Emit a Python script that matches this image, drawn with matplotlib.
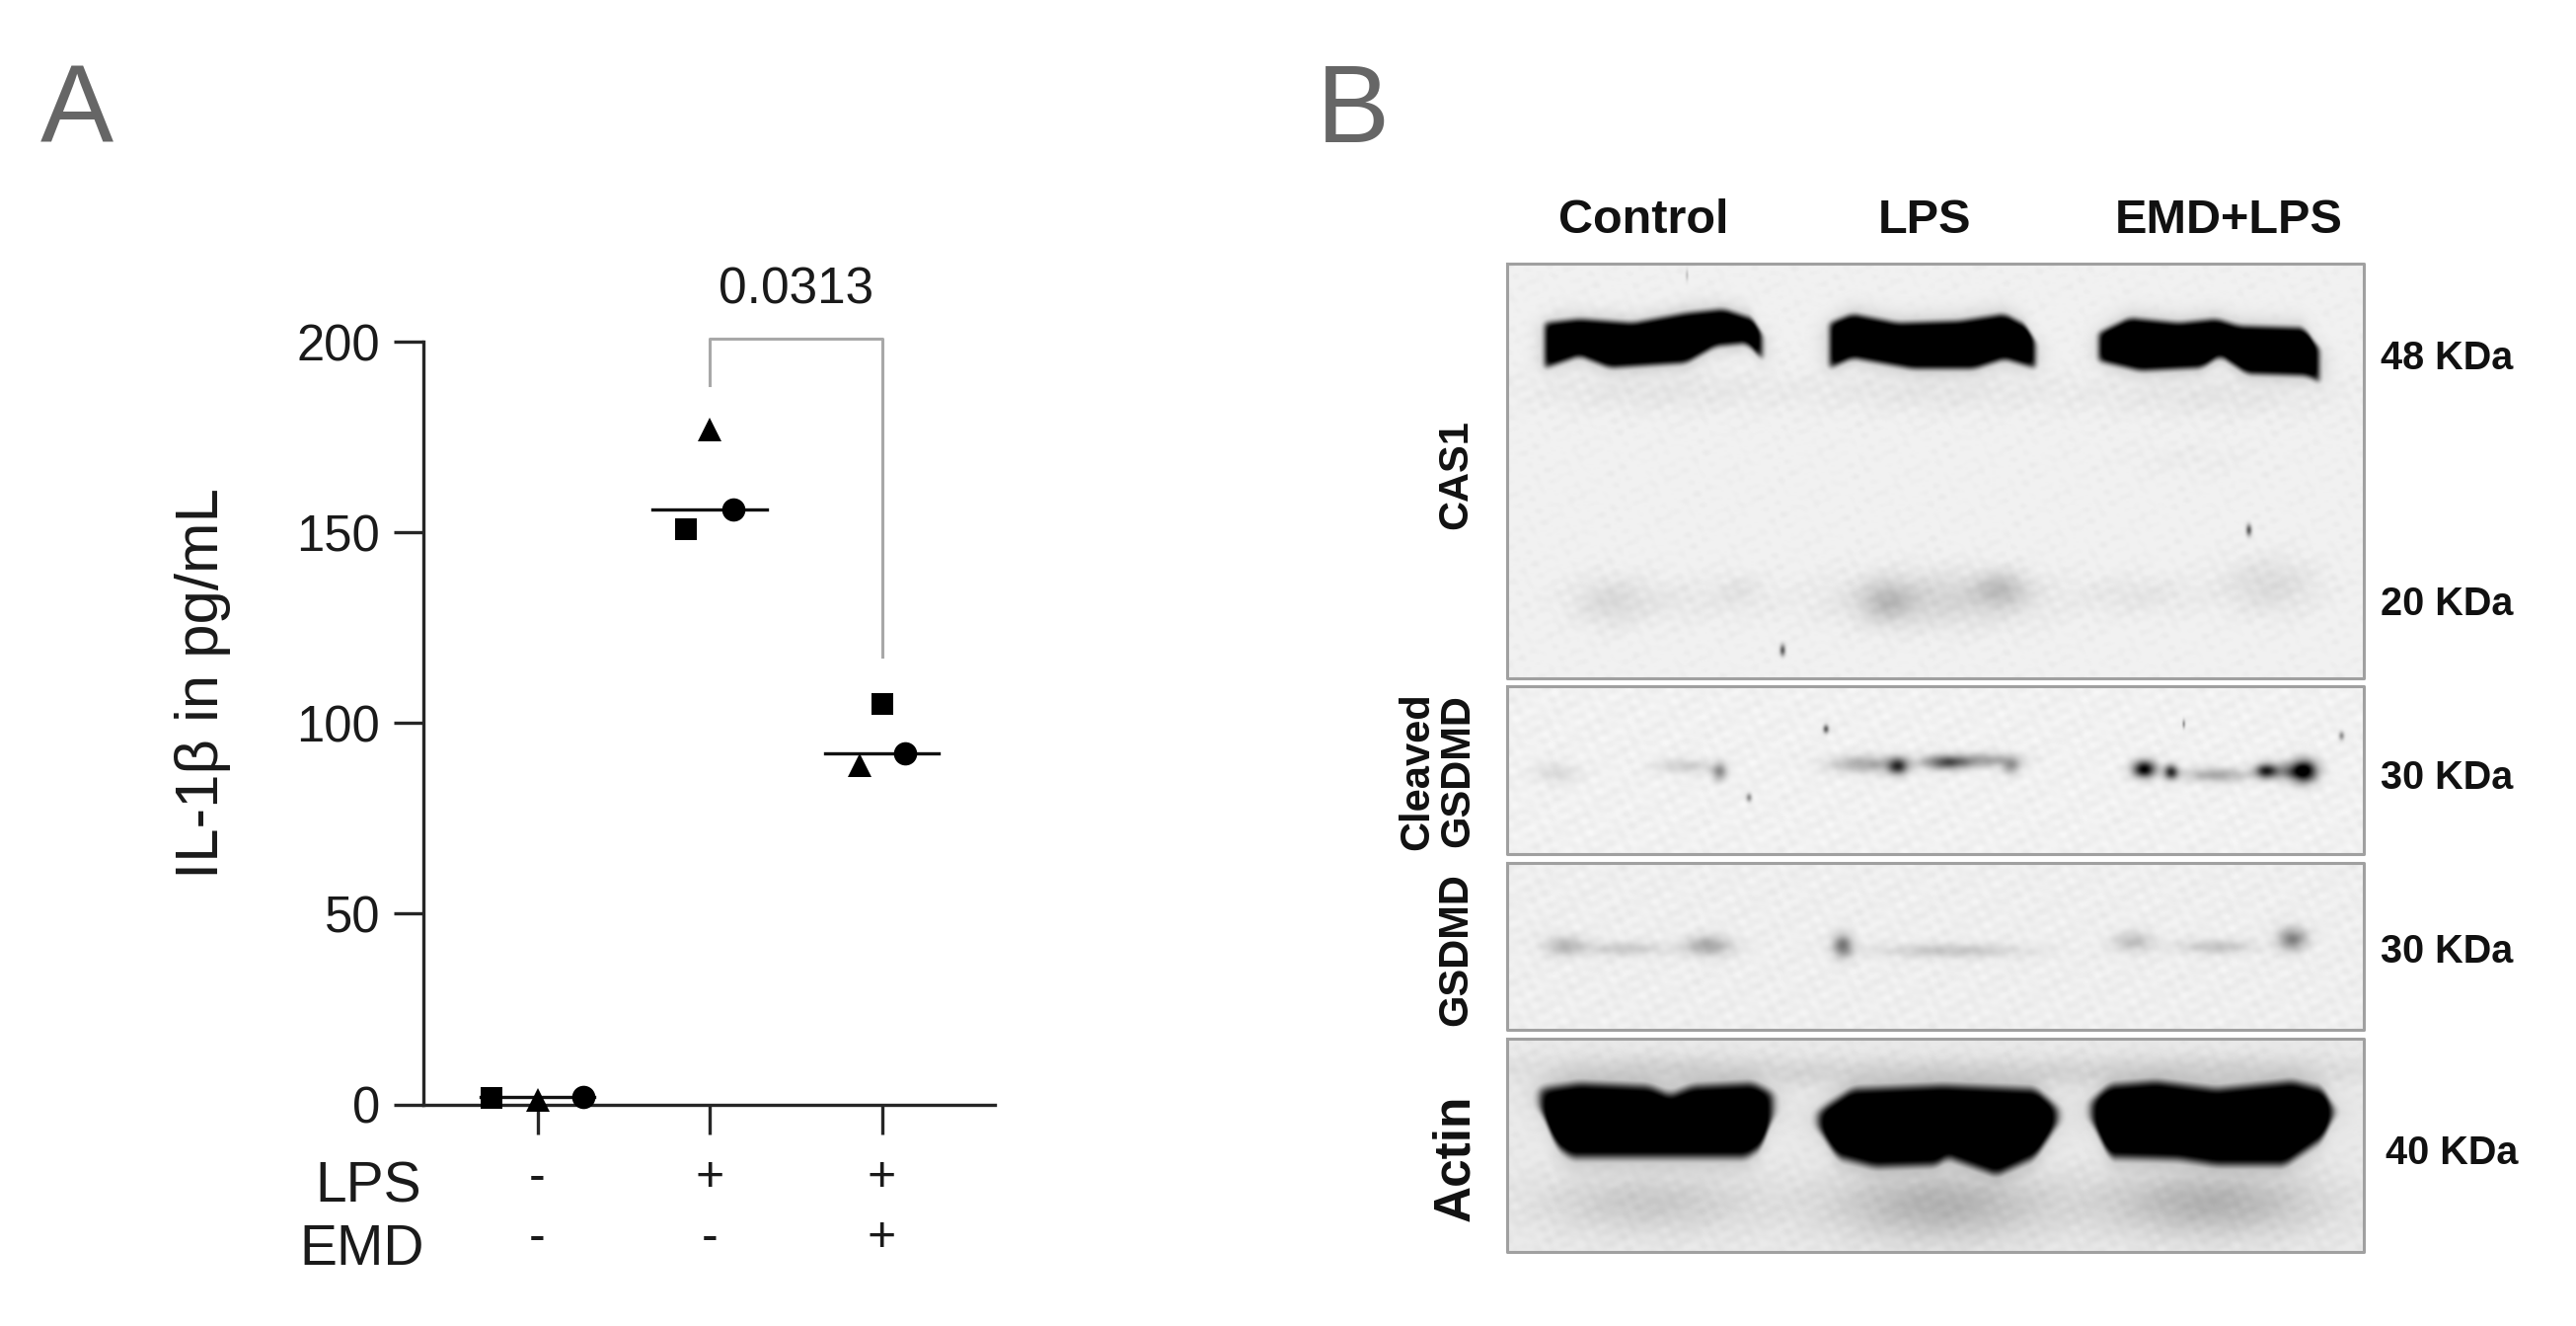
#!/usr/bin/env python3
"""IL-1b dot plot (A) and a western blot figure (B), blots rebuilt as soft greyscale images."""

import numpy as np
import matplotlib
matplotlib.use("Agg")
import matplotlib.pyplot as plt
from matplotlib.transforms import blended_transform_factory

W, H = 2610, 1343
DPI = 100
plt.rcParams["font.family"] = ["Liberation Sans", "DejaVu Sans"]

# panel A data
group_pos = [0, 1, 2]
square_vals = [1.8, 150.8, 105]
triangle_vals = [1.2, 177, 89]
circle_vals = [2, 156, 92]
median_vals = [2, 156, 92]
square_off = [-0.266, -0.135, 0]
triangle_off = [0, 0, -0.13]
circle_off = [0.266, 0.135, 0.135]
y_ticks = [0, 50, 100, 150, 200]
lps_signs = ["-", "+", "+"]
emd_signs = ["-", "-", "+"]
p_value = "0.0313"
bracket_x = [1, 1, 2, 2]
bracket_y = [188.7, 200.8, 200.8, 117.5]

# panel B labels
lane_names = ["Control", "LPS", "EMD+LPS"]
lane_label_x = [1665, 1950, 2258]
size_labels = ["48 KDa", "20 KDa", "30 KDa", "30 KDa", "40 KDa"]
size_label_x = [2412, 2412, 2412, 2412, 2417]
size_label_y = [363, 612, 788, 964, 1168]

# blot frames: x0, x1, y0, y1 in figure pixels
cas1_frame = (1527, 2395, 267, 687)
cleaved_frame = (1527, 2395, 695, 865)
gsdmd_frame = (1527, 2395, 874, 1043)
actin_frame = (1527, 2395, 1052, 1268)

# saturated bands: outline as (x, y) along the top, then along the bottom
cas1_bands = [
    ([1565, 1600, 1654, 1708, 1746, 1777, 1785], [327, 323, 327, 317, 313, 323, 340],
     [1565, 1600, 1631, 1708, 1738, 1770, 1785], [372, 360, 372, 367, 350, 347, 363]),
    ([1854, 1877, 1923, 1985, 2031, 2054, 2062], [327, 318, 327, 325, 318, 330, 347],
     [1854, 1877, 1938, 2000, 2031, 2062], [372, 362, 373, 373, 363, 372]),
    ([2127, 2158, 2208, 2246, 2269, 2335, 2350], [337, 322, 327, 323, 330, 332, 353],
     [2127, 2169, 2231, 2250, 2277, 2338, 2352], [365, 375, 372, 360, 378, 380, 387]),
]
actin_bands = [
    ([1560, 1600, 1670, 1692, 1715, 1775, 1796], [1103, 1097, 1100, 1109, 1100, 1097, 1107],
     [1560, 1577, 1592, 1769, 1785, 1796], [1122, 1161, 1172, 1172, 1161, 1130]),
    ([1842, 1877, 1969, 2062, 2085], [1126, 1103, 1099, 1103, 1122],
     [1842, 1862, 1900, 1962, 1973, 2023, 2062, 2085], [1142, 1172, 1182, 1180, 1172, 1190, 1172, 1138]),
    ([2119, 2138, 2185, 2246, 2323, 2354, 2365], [1115, 1099, 1095, 1103, 1095, 1103, 1122],
     [2119, 2138, 2208, 2246, 2315, 2354, 2365], [1134, 1172, 1174, 1180, 1180, 1153, 1130]),
]

# faint bands and smears: x, y, sigma x, sigma y, darkness
cas1_blobs = [
    (1631, 610, 25, 18, 0.07), (1762, 597, 16, 12, 0.04), (1690, 608, 70, 16, 0.04),
    (1912, 610, 18, 14, 0.16), (2027, 597, 18, 12, 0.16), (1965, 607, 70, 20, 0.12),
    (2300, 593, 35, 20, 0.09), (2169, 603, 40, 14, 0.05), (2220, 465, 50, 12, 0.02),
    (1670, 395, 90, 16, 0.05), (1955, 395, 90, 16, 0.05), (2240, 400, 90, 16, 0.05),
    (1806, 659, 2, 4, 0.6), (2279, 537, 2, 4, 0.6), (1709, 278, 1, 4, 0.2),
]
cleaved_blobs = [
    (1577, 783, 15, 7, 0.10), (1708, 776, 20, 5, 0.15), (1742, 782, 5, 6, 0.40),
    (1892, 774, 25, 6, 0.30), (1923, 776, 7, 6, 0.70), (1973, 772, 16, 5, 0.65),
    (2015, 770, 20, 5, 0.30), (2038, 776, 6, 6, 0.30),
    (2173, 779, 8, 6, 1.00), (2200, 782, 5, 5, 0.80), (2246, 785, 22, 5, 0.30),
    (2296, 781, 7, 5, 0.70), (2335, 781, 9, 8, 1.00), (2315, 781, 15, 6, 0.40),
    (1850, 738, 2, 3, 0.6), (2213, 733, 1, 3, 0.4), (2373, 745, 2, 3, 0.4), (1772, 808, 2, 3, 0.4),
]
gsdmd_blobs = [
    (1585, 958, 14, 7, 0.22), (1646, 961, 30, 5, 0.15), (1731, 958, 16, 7, 0.30),
    (1867, 958, 7, 8, 0.50), (1977, 963, 50, 5, 0.17),
    (2162, 954, 14, 7, 0.20), (2246, 959, 25, 5, 0.18), (2323, 951, 10, 8, 0.45),
]
actin_blobs = [
    (1670, 1218, 75, 22, 0.14), (1965, 1220, 75, 26, 0.24), (2240, 1218, 75, 24, 0.24),
    (1680, 1085, 100, 12, 0.12), (1965, 1088, 105, 12, 0.12), (2240, 1085, 105, 12, 0.12),
]

# gel mottling: wave length x, wave length y, phase, darkness
mottle_waves = [
    (23, 17, 0.4, 0.006), (37, 13, 1.9, 0.006), (-19, 29, 3.1, 0.006),
    (61, 41, 5.0, 0.005), (-47, 11, 2.2, 0.005), (13, -31, 0.9, 0.005),
]


def soft_step(v, s):
    return 0.5 * (1 + np.tanh(v / s))


def smooth(y, n=13):
    # rounds the corners of an outline; the ends are padded so they stay put
    pad = np.r_[np.full(n, y[0]), y, np.full(n, y[-1])]
    return np.convolve(pad, np.ones(n) / n, mode="same")[n:-n]


def band_darkness(X, Y, band, s):
    top_x, top_y, bot_x, bot_y = band
    xs = X[0]
    top = smooth(np.interp(xs, top_x, top_y))[None, :]
    bot = smooth(np.interp(xs, bot_x, bot_y))[None, :]
    across = soft_step(X - top_x[0], s) * soft_step(top_x[-1] - X, s)
    return across * soft_step(Y - top, s) * soft_step(bot - Y, s)


def blot_image(frame, bands, blobs, background, edge=3.0, halo=14.0):
    x0, x1, y0, y1 = frame
    X, Y = np.meshgrid(np.arange(x0, x1 + 1.0), np.arange(y0, y1 + 1.0))
    dark = np.zeros_like(X)
    for lx, ly, phase, amp in mottle_waves:
        dark += amp * np.sin(2 * np.pi * (X / lx + Y / ly) + phase)
    for bx, by, sx, sy, amp in blobs:
        dark += amp * np.exp(-0.5 * ((X - bx) / sx) ** 2 - 0.5 * ((Y - by) / sy) ** 2)
    for band in bands:
        dark = np.maximum(dark, 0.30 * band_darkness(X, Y, band, halo) + dark * 0.6)
        dark = np.maximum(dark, band_darkness(X, Y, band, edge) * 1.15)
    return np.clip(background * (1 - dark), 0, 1)


fig = plt.figure(figsize=(W / DPI, H / DPI), dpi=DPI, facecolor="white")

# overlay in figure pixels, y pointing down, for the blots and free labels
page = fig.add_axes([0, 0, 1, 1], zorder=0)
page.set_xlim(0, W)
page.set_ylim(H, 0)
page.axis("off")

blots = [
    (cas1_frame, cas1_bands, cas1_blobs, 0.945, 4.0, 12.0),
    (cleaved_frame, [], cleaved_blobs, 0.945, 3.0, 12.0),
    (gsdmd_frame, [], gsdmd_blobs, 0.935, 3.0, 12.0),
    (actin_frame, actin_bands, actin_blobs, 0.915, 6.0, 20.0),
]
for frame, bands, blobs, bg, edge, halo in blots:
    x0, x1, y0, y1 = frame
    page.imshow(blot_image(frame, bands, blobs, bg, edge, halo), cmap="gray", vmin=0, vmax=1,
                extent=(x0, x1, y1, y0), aspect="auto", interpolation="bilinear", zorder=1)
    page.plot([x0, x1, x1, x0, x0], [y0, y0, y1, y1, y0], color="#a0a0a0", lw=2.2, zorder=2)
page.set_xlim(0, W)
page.set_ylim(H, 0)

# panel A chart
left, right, top, bottom = 429, 1007.5, 346, 1118.5
ax = fig.add_axes([left / W, 1 - bottom / H, (right - left) / W, (bottom - top) / H], zorder=2)
ax.patch.set_alpha(0)
ax.set_xlim((left - 544.5) / 174.5, (right - 544.5) / 174.5)
ax.set_ylim(0, 200)
for name in ("top", "right"):
    ax.spines[name].set_visible(False)
for name in ("left", "bottom"):
    ax.spines[name].set_linewidth(2.4)
    ax.spines[name].set_color("#262626")
ax.set_yticks(y_ticks)
ax.set_xticks(group_pos)
ax.set_xticklabels([])
ax.tick_params(axis="both", length=21.5, width=2.4, color="#262626")
ax.tick_params(axis="y", labelsize=36.5, pad=10, labelcolor="#1a1a1a")

for i, g in enumerate(group_pos):
    ax.plot([g - 0.33, g + 0.33], [median_vals[i], median_vals[i]], color="#111111",
            lw=2.4, clip_on=False, zorder=3)
    ax.plot(g + square_off[i], square_vals[i], "s", color="black", ms=16.5, mew=0, clip_on=False, zorder=4)
    ax.plot(g + triangle_off[i], triangle_vals[i], "^", color="black", ms=17, mew=0, clip_on=False, zorder=4)
    ax.plot(g + circle_off[i], circle_vals[i], "o", color="black", ms=17, mew=0, clip_on=False, zorder=4)

ax.plot(bracket_x, bracket_y, color="#a8a8a8", lw=2.2, clip_on=False, zorder=2)

row_tf = blended_transform_factory(ax.transData, page.transData)
ax.text(1.5, 294, p_value, transform=row_tf, fontsize=37, ha="center", va="center", color="#1a1a1a")
for g, lps, emd in zip(group_pos, lps_signs, emd_signs):
    ax.text(g, 1193, lps, transform=row_tf, fontsize=36, ha="center", va="center", color="#1a1a1a", clip_on=False)
    ax.text(g, 1254, emd, transform=row_tf, fontsize=36, ha="center", va="center", color="#1a1a1a", clip_on=False)

page.text(427, 1203, "LPS", fontsize=41, ha="right", va="center", color="#1a1a1a", zorder=5)
page.text(430, 1266, "EMD", fontsize=41, ha="right", va="center", color="#1a1a1a", zorder=5)
page.text(206, 692, "IL-1β in pg/mL", fontsize=44.5, rotation=90, ha="center", va="center",
          color="#1a1a1a", zorder=5)

# panel letters
page.text(41, 144, "A", fontsize=80, color="#666666", ha="left", va="baseline")
page.text(1334, 144, "B", fontsize=80, color="#666666", ha="left", va="baseline")

# blot labels
for name, x in zip(lane_names, lane_label_x):
    page.text(x, 224, name, fontsize=35, fontweight="bold", ha="center", va="center", color="#111111")
for name, x, y in zip(size_labels, size_label_x, size_label_y):
    page.text(x, y, name, fontsize=28.5, fontweight="bold", ha="left", va="center", color="#111111")

page.text(1475, 481, "CAS1", fontsize=30, fontweight="bold", rotation=90, ha="center", va="center", color="#111111")
page.text(1436, 781, "Cleaved", fontsize=30, fontweight="bold", rotation=90, ha="center", va="center", color="#111111")
page.text(1477, 781, "GSDMD", fontsize=30, fontweight="bold", rotation=90, ha="center", va="center", color="#111111")
page.text(1475, 962, "GSDMD", fontsize=30, fontweight="bold", rotation=90, ha="center", va="center", color="#111111")
page.text(1475, 1173, "Actin", fontsize=37, fontweight="bold", rotation=90, ha="center", va="center", color="#111111")

fig.savefig("out.png", dpi=DPI, facecolor="white")
plt.close(fig)
